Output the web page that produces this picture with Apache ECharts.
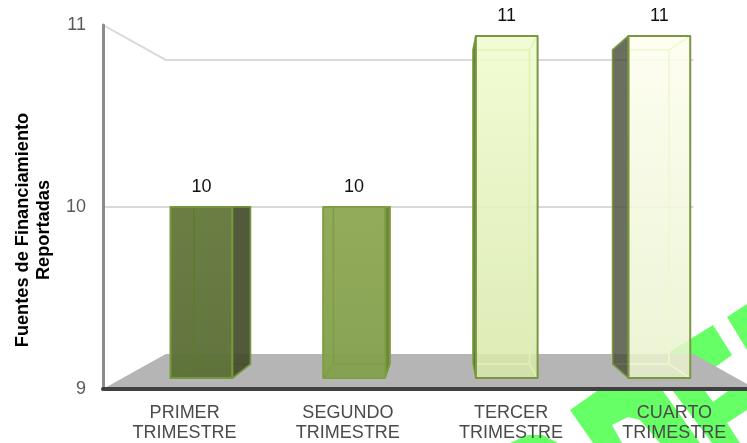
<!DOCTYPE html>
<html>
<head>
<meta charset="utf-8">
<style>html,body{margin:0;padding:0;background:#fff}#c{width:747px;height:443px}</style>
<script src="https://cdn.jsdelivr.net/npm/echarts@6/dist/echarts.min.js"></script>
</head>
<body>
<div id="c"></div>
<script>
const categories = ['PRIMER\nTRIMESTRE', 'SEGUNDO\nTRIMESTRE', 'TERCER\nTRIMESTRE', 'CUARTO\nTRIMESTRE'];
const values = [10, 10, 11, 11];
const yTicks = [9, 10, 11];
const axisTitle = 'Fuentes de Financiamiento\nReportadas';

// Appearance of each bar, kept apart from the data
const barStyles = [
  {top:'rgba(102,122,62,0.97)', bottom:'rgba(92,112,56,0.97)', side:'rgba(66,76,42,0.92)', inner:'#5f7a30', edge:'#76983c'},
  {top:'rgba(144,170,88,0.98)', bottom:'rgba(132,160,78,0.97)', side:'#6c8a3a', inner:'#7f9d45', edge:'#7f9f45'},
  {top:'rgba(240,252,208,0.90)', bottom:'rgba(216,232,170,0.86)', side:'rgba(76,96,46,0.85)', inner:'#dff2b4', edge:'#78983f'},
  {top:'rgba(254,254,240,0.90)', bottom:'rgba(232,242,204,0.84)', side:'rgba(70,75,55,0.80)', inner:'#eef8d0', edge:'#78983f'}
];
const FLOOR = '#b5b5b5', GRID = '#d9d9d9';
const WALL_VANISH_X = 430, BAR_VANISH_X = 443;
const WALL_S = 0.808, BAR_W = 0.405;
const FRONT = {sx:0.935, sy:0.94}, BACK = {sx:0.855, sy:0.863};

function project(api, vx, x, y, sx, sy) {
  const vy = api.coord([0, 10])[1];
  return [vx + (x - vx) * sx, vy + (y - vy) * sy];
}
function poly(points, style, z2) {
  return {type:'polygon', shape:{points}, style, z2};
}
function pline(points, stroke, w, z2) {
  return {type:'polyline', shape:{points}, style:{stroke, lineWidth:w, fill:null}, z2};
}

function renderWall(params, api) {
  const cs = params.coordSys;
  const tick = api.value(1), y = api.coord([0, tick])[1];
  const L = cs.x, R = cs.x + cs.width;
  const W = x => project(api, WALL_VANISH_X, x, y, WALL_S, WALL_S);
  if (tick === yTicks[0]) {
    return poly([[L, y], W(L), W(R), [R, y]], {fill:FLOOR}, 1);
  }
  return pline([[L, y], W(L), W(R)], GRID, 2, 2);
}

function renderBar(params, api) {
  const i = api.value(0), v = api.value(1), st = barStyles[i];
  const c = api.coord([i, v]), b = api.coord([i, yTicks[0]]);
  const hw = api.size([1, 0])[0] * BAR_W / 2;
  const x0 = c[0] - hw, x1 = c[0] + hw, yt = c[1], yb = b[1];
  const corners = d => ({
    tl:project(api, BAR_VANISH_X, x0, yt, d.sx, d.sy),
    tr:project(api, BAR_VANISH_X, x1, yt, d.sx, d.sy),
    br:project(api, BAR_VANISH_X, x1, yb, d.sx, d.sy),
    bl:project(api, BAR_VANISH_X, x0, yb, d.sx, d.sy)
  });
  const f = corners(FRONT), k = corners(BACK);
  const leftSide = c[0] > BAR_VANISH_X;
  const side = leftSide ? [f.tl, k.tl, k.bl, f.bl] : [f.tr, k.tr, k.br, f.br];
  const grad = {type:'linear', x:0, y:0, x2:0, y2:1, colorStops:[{offset:0,color:st.top},{offset:1,color:st.bottom}]};
  return {type:'group', children:[
    poly([f.tl, f.tr, f.br, f.bl], {fill:grad}, 2),
    pline([k.tl, k.tr, k.br, k.bl, k.tl], st.inner, 1.6, 3),
    pline([f.tl, k.tl], st.inner, 1.4, 3),
    pline([f.tr, k.tr], st.inner, 1.4, 3),
    pline([f.br, k.br], st.inner, 1.4, 3),
    pline([f.bl, k.bl], st.inner, 1.4, 3),
    poly(side, {fill:st.side, stroke:st.edge, lineWidth:1.5, lineJoin:'round'}, 4),
    poly([f.tl, f.tr, f.br, f.bl], {fill:'none', stroke:st.edge, lineWidth:2, lineJoin:'round'}, 5),
    {type:'text', z2:6, style:{
      text:String(v), x:(f.tl[0] + f.tr[0]) / 2, y:f.tl[1] - 19.5,
      align:'center', verticalAlign:'middle', fill:'#111', font:'18px "Liberation Sans", Arial, sans-serif'
    }}
  ]};
}

const GREEN = '#66ff66';
const stamp = [
  [[668,353],[713,325],[732,355],[700,378],[680,378]],
  [[727,317],[747,304],[747,350]],
  [[570,410],[597,391],[663,391],[700,443],[593,443]],
  [[673,391],[705,391],[713,402],[728,391],[747,391],[747,410],[727,423],[740,443],[712,443]],
  [[510,443],[528,435],[543,435],[558,443]]
];
const stampHole = [[612,425],[628,417],[640,420],[660,443],[622,443]];

const chart = echarts.init(document.getElementById('c'), null, {renderer:'canvas'});
chart.setOption({
  animation:false,
  backgroundColor:'#ffffff',
  textStyle:{fontFamily:'"Liberation Sans", Arial, sans-serif'},
  grid:{left:103, width:653, top:25, height:364, outerBoundsMode:'none', containLabel:false},
  xAxis:{
    type:'category', data:categories,
    axisTick:{show:false},
    axisLine:{onZero:false, lineStyle:{color:'#404040', width:4}},
    axisLabel:{color:'#4a4a4a', fontSize:18, lineHeight:20, margin:14, interval:0,
      fontFamily:'"Liberation Sans", Arial, sans-serif'},
    splitLine:{show:false}, z:5
  },
  yAxis:{
    type:'value', min:9, max:11, interval:1,
    axisLine:{show:true, lineStyle:{color:'#8c8c8c', width:3}},
    axisTick:{show:false},
    axisLabel:{color:'#595959', fontSize:18, margin:17, padding:[5,0,0,0], verticalAlign:'middle',
      fontFamily:'"Liberation Sans", Arial, sans-serif', showMinLabel:true, showMaxLabel:true},
    splitLine:{show:false}, z:4
  },
  graphic:[
    ...stamp.map(points => ({type:'polygon', silent:true, z:-10, shape:{points}, style:{fill:GREEN}})),
    {type:'polygon', silent:true, z:-9, shape:{points:stampHole}, style:{fill:'#ffffff'}},
    {type:'text', silent:true, z:10, x:33, y:230, rotation:Math.PI/2,
      style:{text:axisTitle, align:'center', verticalAlign:'middle', fill:'#000', lineHeight:21,
        font:'bold 18.2px "Liberation Sans", Arial, sans-serif'}}
  ],
  series:[
    {type:'custom', coordinateSystem:'cartesian2d', clip:false, silent:true, z:2,
      data:yTicks.map(t => [0, t]), encode:{x:0, y:1}, renderItem:renderWall},
    {type:'custom', coordinateSystem:'cartesian2d', clip:false, silent:true, z:3,
      data:values.map((v, i) => [i, v]), encode:{x:0, y:1}, renderItem:renderBar}
  ]
});
</script>
</body>
</html>
